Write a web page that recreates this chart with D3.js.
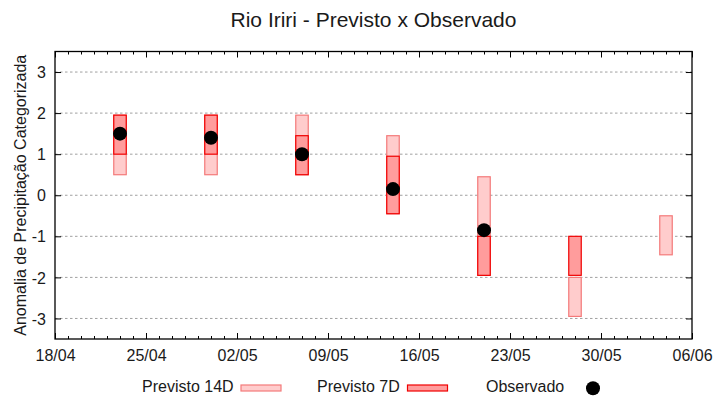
<!DOCTYPE html>
<html>
<head>
<meta charset="utf-8">
<script src="https://cdn.jsdelivr.net/npm/d3@7"></script>
<style>
  body { margin: 0; background: #fff; }
  svg { font-family: "Liberation Sans", Arial, sans-serif; }
</style>
</head>
<body>
<div id="chart"></div>
<script>
// Forecast dates (day/month)
const dates = ['23/04', '30/04', '07/05', '14/05', '21/05', '28/05', '04/06'];
// 14-day forecast range
const p14Low = [0.5, 0.5, 0.5, -0.45, -1.95, -2.95, -1.45];
const p14High = [1.95, 1.95, 1.95, 1.45, 0.45, -2.0, -0.5];
// 7-day forecast range (null = none)
const p7Low = [1.0, 1.0, 0.5, -0.45, -1.95, -1.95, null];
const p7High = [1.95, 1.95, 1.45, 0.95, -1.0, -1.0, null];
// Observed anomaly (null = not yet observed)
const observed = [1.5, 1.4, 1.0, 0.15, -0.85, null, null];

const xTickLabels = ['18/04', '25/04', '02/05', '09/05', '16/05', '23/05', '30/05', '06/06'];
const yTicks = [-3, -2, -1, 0, 1, 2, 3];

const YEAR = 2023;
const parseDay = s => {
  const [d, m] = s.split('/').map(Number);
  return new Date(Date.UTC(YEAR, m - 1, d));
};
const DAY = 864e5;

const width = 720, height = 400;
const margin = { top: 51.5, right: 28, bottom: 61, left: 55 };

const svg = d3.select('#chart').append('svg')
  .attr('width', width)
  .attr('height', height);

const x = d3.scaleUtc()
  .domain([parseDay(xTickLabels[0]), parseDay(xTickLabels[xTickLabels.length - 1])])
  .range([margin.left, width - margin.right]);

const y = d3.scaleLinear()
  .domain([-3.5, 3.5])
  .range([height - margin.bottom, margin.top]);

const x0 = margin.left, x1 = width - margin.right;
const y0 = height - margin.bottom, y1 = margin.top;

// Grid lines
svg.append('g')
  .selectAll('line')
  .data(yTicks)
  .join('line')
  .attr('x1', x0).attr('x2', x1)
  .attr('y1', d => y(d)).attr('y2', d => y(d))
  .attr('stroke', '#a0a0a0')
  .attr('stroke-width', 1)
  .attr('stroke-dasharray', '2.5,2.5');

// Axes with inward ticks (gnuplot style)
const majorDates = xTickLabels.map(parseDay);
const minorDates = d3.utcDay.range(x.domain()[0], new Date(+x.domain()[1] + 1));

const gBottomMinor = svg.append('g').attr('transform', `translate(0,${y0})`)
  .call(d3.axisBottom(x).tickValues(minorDates).tickSize(-3).tickFormat(''));
const gBottom = svg.append('g').attr('transform', `translate(0,${y0})`)
  .call(d3.axisBottom(x).tickValues(majorDates).tickSize(-6).tickPadding(16)
    .tickFormat(d3.utcFormat('%d/%m')));
const gTopMinor = svg.append('g').attr('transform', `translate(0,${y1})`)
  .call(d3.axisTop(x).tickValues(minorDates).tickSize(-3).tickFormat(''));
const gTop = svg.append('g').attr('transform', `translate(0,${y1})`)
  .call(d3.axisTop(x).tickValues(majorDates).tickSize(-6).tickFormat(''));
const gLeft = svg.append('g').attr('transform', `translate(${x0},0)`)
  .call(d3.axisLeft(y).tickValues(yTicks).tickSize(-6).tickPadding(9).tickFormat(d => String(d)));
const gRight = svg.append('g').attr('transform', `translate(${x1},0)`)
  .call(d3.axisRight(y).tickValues(yTicks).tickSize(-6).tickFormat(''));

[gBottomMinor, gBottom, gTopMinor, gTop, gLeft, gRight].forEach(g => {
  g.select('.domain').remove();
  g.selectAll('.tick line').attr('stroke', '#000').attr('stroke-width', 1);
  g.selectAll('.tick text')
    .attr('fill', '#1a1a1a')
    .style('font-size', '16px')
    .style('font-family', '"Liberation Sans", Arial, sans-serif');
});
gBottom.selectAll('.tick text').attr('dy', '0.4em');
gLeft.selectAll('.tick text').attr('dy', '0.35em');

// Frame
svg.append('rect')
  .attr('x', x0).attr('y', y1)
  .attr('width', x1 - x0).attr('height', y0 - y1)
  .attr('fill', 'none')
  .attr('stroke', '#000')
  .attr('stroke-width', 1.3);

const rows = dates.map((d, i) => ({
  date: parseDay(d),
  p14: [p14Low[i], p14High[i]],
  p7: p7Low[i] == null ? null : [p7Low[i], p7High[i]],
  obs: observed[i]
}));

const halfW = 0.48 * DAY;
const c14 = { fill: '#ffcccc', stroke: '#f47a7a' };
const c7 = { fill: '#ff9c9c', stroke: '#f00000' };

// 14D boxes (behind)
svg.append('g')
  .selectAll('rect')
  .data(rows)
  .join('rect')
  .attr('x', d => x(+d.date - halfW))
  .attr('width', d => x(+d.date + halfW) - x(+d.date - halfW))
  .attr('y', d => y(d.p14[1]))
  .attr('height', d => y(d.p14[0]) - y(d.p14[1]))
  .attr('fill', c14.fill)
  .attr('stroke', c14.stroke)
  .attr('stroke-width', 1.2);

// 7D boxes
svg.append('g')
  .selectAll('rect')
  .data(rows.filter(d => d.p7))
  .join('rect')
  .attr('x', d => x(+d.date - halfW))
  .attr('width', d => x(+d.date + halfW) - x(+d.date - halfW))
  .attr('y', d => y(d.p7[1]))
  .attr('height', d => y(d.p7[0]) - y(d.p7[1]))
  .attr('fill', c7.fill)
  .attr('stroke', c7.stroke)
  .attr('stroke-width', 1.2);

// Observed points
svg.append('g')
  .selectAll('circle')
  .data(rows.filter(d => d.obs != null))
  .join('circle')
  .attr('cx', d => x(d.date))
  .attr('cy', d => y(d.obs))
  .attr('r', 7)
  .attr('fill', '#000');

// Title
svg.append('text')
  .attr('x', (x0 + x1) / 2)
  .attr('y', 27)
  .attr('text-anchor', 'middle')
  .attr('fill', '#1a1a1a')
  .style('font-size', '21px')
  .text('Rio Iriri - Previsto x Observado');

// Y label
svg.append('text')
  .attr('transform', `translate(26,${(y0 + y1) / 2}) rotate(-90)`)
  .attr('text-anchor', 'middle')
  .attr('fill', '#1a1a1a')
  .style('font-size', '16px')
  .text('Anomalia de Precipitação Categorizada');

// Legend
const legend = svg.append('g');
const legendY = 392;
const items = [
  { label: 'Previsto 14D', tx: 142, kind: 'box', c: c14, sx: 241 },
  { label: 'Previsto 7D', tx: 317, kind: 'box', c: c7, sx: 407.5 },
  { label: 'Observado', tx: 486, kind: 'dot', sx: 593 }
];
items.forEach(it => {
  legend.append('text')
    .attr('x', it.tx).attr('y', legendY)
    .attr('fill', '#1a1a1a')
    .style('font-size', '16px')
    .text(it.label);
  if (it.kind === 'box') {
    legend.append('rect')
      .attr('x', it.sx).attr('y', 385)
      .attr('width', 40).attr('height', 6)
      .attr('fill', it.c.fill)
      .attr('stroke', it.c.stroke)
      .attr('stroke-width', 1.2);
  } else {
    legend.append('circle')
      .attr('cx', it.sx).attr('cy', 388.3)
      .attr('r', 7)
      .attr('fill', '#000');
  }
});
</script>
</body>
</html>
